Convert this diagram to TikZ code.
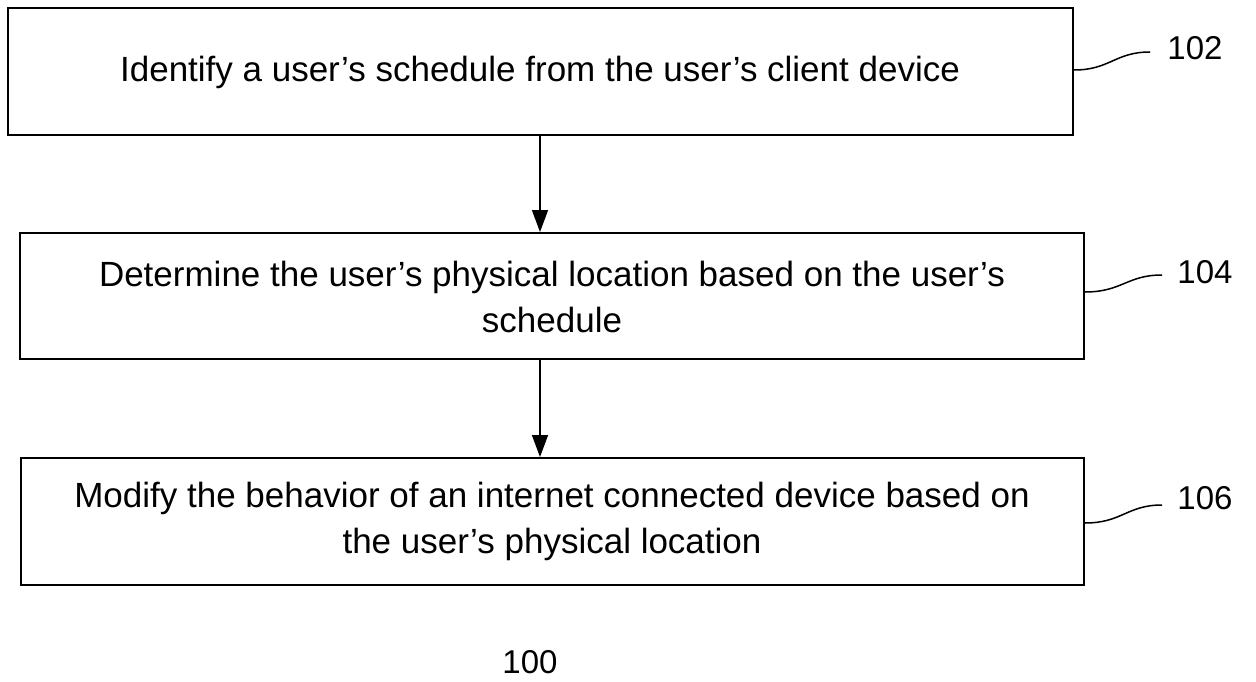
\documentclass[tikz,border=0pt]{standalone}
\usepackage{fontspec}
\setmainfont{Liberation Sans}
\usetikzlibrary{arrows.meta}
\begin{document}
\begin{tikzpicture}[x=1pt,y=-1pt,
  stepbox/.style={draw,line width=2pt,inner sep=0pt},
  steptext/.style={font=\fontsize{35}{46}\selectfont,align=center},
  reflabel/.style={font=\fontsize{33}{40}\selectfont},
  leader/.style={line width=1.5pt},
  flow/.style={line width=1.5pt,-{Triangle[length=22pt,width=16pt]}}]
\useasboundingbox (0,0) rectangle (1256,682);
\node[stepbox,minimum width=1065pt,minimum height=127pt] (b1) at (540.5,71.5) {};
\node[stepbox,minimum width=1064pt,minimum height=126pt] (b2) at (552,296) {};
\node[stepbox,minimum width=1063pt,minimum height=127pt] (b3) at (552.5,521.5) {};
\node[steptext] (t1) at (540,72) {Identify a user’s schedule from the user’s client device};
\node[steptext] (t2) at (552,297) {Determine the user’s physical location based on the user’s\\schedule};
\node[steptext] (t3) at (552,521) {Modify the behavior of an internet connected device based on\\the user’s physical location};
\draw[flow] (b1.south -| 540,0) -- (b2.north -| 540,0);
\draw[flow] (b2.south -| 540,0) -- (b3.north -| 540,0);
\node[reflabel] (l1) at (1195,48) {102};
\node[reflabel] (l2) at (1205,272) {104};
\node[reflabel] (l3) at (1205,498) {106};
\coordinate (e1) at (1150,52);
\coordinate (e2) at (1162,275);
\coordinate (e3) at (1162,505);
\draw[leader] (b1.east |- 0,70) .. controls (1110,70) and (1115,52) .. (e1);
\draw[leader] (b2.east |- 0,292) .. controls (1122,292) and (1127,275) .. (e2);
\draw[leader] (b3.east |- 0,523) .. controls (1122,523) and (1127,505) .. (e3);
\node[reflabel] (n100) at (530,662) {100};
\end{tikzpicture}
\end{document}
